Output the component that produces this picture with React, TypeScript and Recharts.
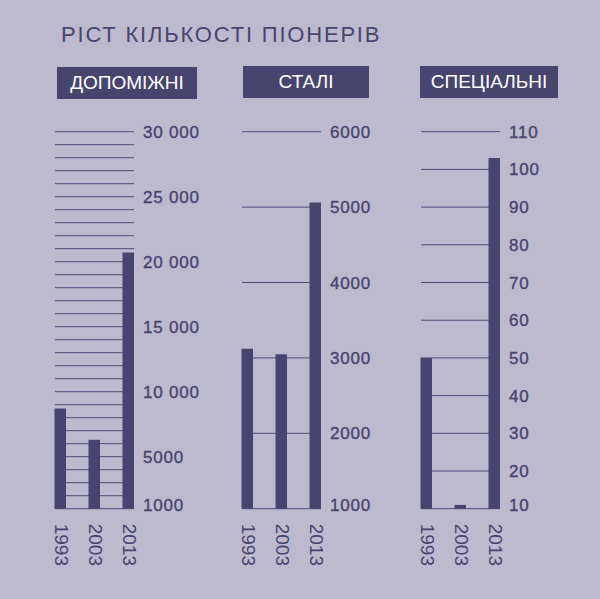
import React from "react";
import { Bar, BarChart, CartesianGrid, XAxis, YAxis } from "recharts";

const years = ["1993", "2003", "2013"];

// допоміжні
const auxValues = [8700, 6300, 20700];
const auxGrid = [
  1000, 2000, 3000, 4000, 5000, 6000, 7000, 8000, 9000, 10000, 11000, 12000,
  13000, 14000, 15000, 16000, 17000, 18000, 19000, 20000, 21000, 22000, 23000,
  24000, 25000, 26000, 27000, 28000, 29000, 30000,
];
const auxTicks = [1000, 5000, 10000, 15000, 20000, 25000, 30000];
const auxLabels = ["1000", "5000", "10 000", "15 000", "20 000", "25 000", "30 000"];

// сталі
const permValues = [3120, 3050, 5060];
const permGrid = [1000, 2000, 3000, 4000, 5000, 6000];
const permLabels = ["1000", "2000", "3000", "4000", "5000", "6000"];

// спеціальні
const specValues = [50, 11, 103];
const specGrid = [10, 20, 30, 40, 50, 60, 70, 80, 90, 100, 110];
const specLabels = ["10", "20", "30", "40", "50", "60", "70", "80", "90", "100", "110"];

const BG = "#bdbad0";
const DARK = "#47446d";
const FONT = "'Liberation Sans', Arial, sans-serif";

type PanelProps = {
  left: number;
  values: number[];
  grid: number[];
  ticks: number[];
  labels: string[];
};

function Panel({ left, values, grid, ticks, labels }: PanelProps) {
  const data = years.map((year, i) => ({ year, value: values[i] }));
  const min = grid[0];
  const max = grid[grid.length - 1];

  const YTick = (props: any) => {
    const { x, y, payload } = props;
    const idx = ticks.indexOf(payload.value);
    if (idx < 0) return null;
    const shift = payload.value === min ? -4 : 0;
    return (
      <text
        x={x + 1}
        y={y + shift}
        dy={6}
        textAnchor="start"
        fill={DARK}
        stroke={DARK}
        strokeWidth={0.35}
        fontSize={17}
        letterSpacing={0.8}
        fontFamily={FONT}
      >
        {labels[idx]}
      </text>
    );
  };

  const XTick = (props: any) => {
    const { x, y, payload } = props;
    const ax = x - 6;
    const ay = y + 7;
    return (
      <text
        x={ax}
        y={ay}
        transform={`rotate(90, ${ax}, ${ay})`}
        textAnchor="start"
        fill={DARK}
        fontSize={19}
        fontFamily={FONT}
      >
        {payload.value}
      </text>
    );
  };

  return (
    <div style={{ position: "absolute", left, top: 100 }}>
      <BarChart
        width={180}
        height={480}
        data={data}
        margin={{ top: 31.7, left: 15, right: 16, bottom: 11.3 }}
        barSize={11.5}
      >
        <CartesianGrid vertical={false} stroke="#4e4b76" strokeWidth={1} />
        <XAxis
          dataKey="year"
          axisLine={false}
          tickLine={false}
          height={60}
          padding={{ left: -11.5, right: -11.5 }}
          tick={XTick}
          interval={0}
        />
        <YAxis
          orientation="right"
          width={70}
          domain={[min, max]}
          ticks={grid}
          interval={0}
          axisLine={false}
          tickLine={false}
          tick={YTick}
        />
        <Bar dataKey="value" fill={DARK} isAnimationActive={false} />
      </BarChart>
    </div>
  );
}

const boxStyle: React.CSSProperties = {
  position: "absolute",
  height: 32,
  lineHeight: "32px",
  background: DARK,
  color: "#ffffff",
  fontFamily: FONT,
  fontSize: 19,
  textAlign: "center",
};

export default function App() {
  return (
    <div
      style={{
        position: "absolute",
        left: 0,
        top: 0,
        width: 600,
        height: 599,
        background: BG,
        overflow: "hidden",
      }}
    >
      <div
        style={{
          position: "absolute",
          left: 61,
          top: 22,
          fontFamily: FONT,
          fontSize: 22,
          letterSpacing: 1.8,
          color: DARK,
          lineHeight: "26px",
          whiteSpace: "nowrap",
        }}
      >
        РІСТ КІЛЬКОСТІ ПІОНЕРІВ
      </div>
      <div style={{ ...boxStyle, left: 57, top: 67, width: 140 }}>ДОПОМІЖНІ</div>
      <div style={{ ...boxStyle, left: 243, top: 66, width: 126 }}>СТАЛІ</div>
      <div style={{ ...boxStyle, left: 420, top: 66, width: 138 }}>СПЕЦІАЛЬНІ</div>

      <Panel left={40} values={auxValues} grid={auxGrid} ticks={auxTicks} labels={auxLabels} />
      <Panel left={227.3} values={permValues} grid={permGrid} ticks={permGrid} labels={permLabels} />
      <Panel left={406} values={specValues} grid={specGrid} ticks={specGrid} labels={specLabels} />
    </div>
  );
}
